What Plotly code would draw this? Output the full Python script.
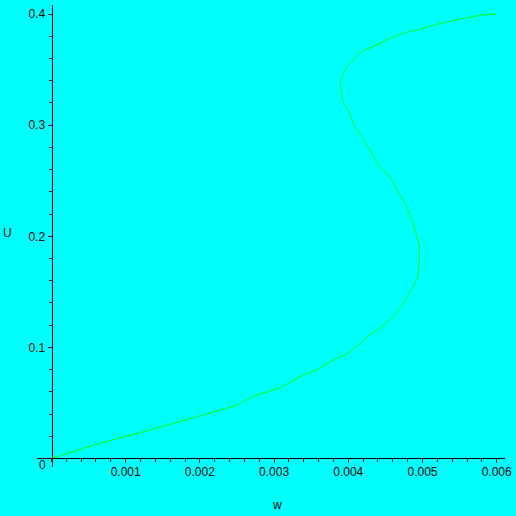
import plotly.graph_objects as go

# curve (w, U)
w_vals = [0.0, 0.000654, 0.001327, 0.002001, 0.002496, 0.002766, 0.003080,
          0.003349, 0.003619, 0.003754, 0.004023, 0.004292, 0.004472, 0.004606,
          0.004741, 0.004854, 0.004930, 0.004957, 0.004957, 0.004912, 0.004854,
          0.004787, 0.004674, 0.004539, 0.004404, 0.004292, 0.004181, 0.004090,
          0.004023, 0.003933, 0.003911, 0.003888, 0.003911, 0.003978, 0.004067,
          0.004181, 0.004337, 0.004562, 0.004787, 0.005011, 0.005280, 0.005550,
          0.005819, 0.006000]
u_vals = [0.0, 0.0137, 0.0257, 0.0383, 0.0482, 0.0572, 0.0637, 0.0736, 0.0812,
          0.0871, 0.0961, 0.1112, 0.1202, 0.1276, 0.1397, 0.1532, 0.1622, 0.1787,
          0.1906, 0.2027, 0.2147, 0.2266, 0.2401, 0.2552, 0.2642, 0.2777, 0.2897,
          0.2987, 0.3092, 0.3212, 0.3287, 0.3383, 0.3422, 0.3527, 0.3587, 0.3662,
          0.3707, 0.3782, 0.3836, 0.3872, 0.3923, 0.3962, 0.3992, 0.4000]

x_ticks = [0.001, 0.002, 0.003, 0.004, 0.005, 0.006]
x_labels = ["0.001", "0.002", "0.003", "0.004", "0.005", "0.006"]
y_ticks = [0.1, 0.2, 0.3, 0.4]
y_labels = ["0.1", "0.2", "0.3", "0.4"]

BG = "#00ffff"
FONT = dict(family="Liberation Sans, Arial, sans-serif", size=12, color="black")

fig = go.Figure()
fig.add_trace(go.Scatter(x=w_vals, y=u_vals, mode="lines",
                         line=dict(color="#00ff00", width=1, shape="spline",
                                   smoothing=0.6),
                         hoverinfo="skip", showlegend=False))

axis_common = dict(showgrid=False, zeroline=False, showline=True,
                   linecolor="black", linewidth=1, ticks="outside",
                   ticklen=4, tickwidth=1, tickcolor="black",
                   tickfont=FONT, tickmode="array")

fig.update_layout(
    width=516, height=516, autosize=False,
    margin=dict(l=37, r=11, t=5, b=49),
    paper_bgcolor=BG, plot_bgcolor=BG,
    xaxis=dict(range=[-0.000195, 0.006112], anchor="free", position=0.0184,
               tickvals=x_ticks, ticktext=x_labels, ticklabelstandoff=-2,
               minor=dict(tickmode="linear", tick0=0, dtick=0.0002,
                          ticklen=3, tickcolor="black", ticks="outside"),
               **axis_common),
    yaxis=dict(range=[-0.00765, 0.4082], anchor="free", position=0.031,
               tickvals=y_ticks, ticktext=y_labels,
               minor=dict(tickmode="linear", tick0=0, dtick=0.02,
                          ticklen=3, tickcolor="black", ticks="outside"),
               **axis_common),
    annotations=[
        dict(text="0", x=0.0107, y=0.0043, xref="paper", yref="paper",
             xanchor="center", yanchor="middle", showarrow=False, font=FONT),
        dict(text="w", x=0.5128, y=-0.0823, xref="paper", yref="paper",
             xanchor="center", yanchor="middle", showarrow=False, font=FONT),
        dict(text="U", x=-0.0641, y=0.5065, xref="paper", yref="paper",
             xanchor="center", yanchor="middle", showarrow=False, font=FONT),
    ],
)

# drop the default page margin so the 516px figure fills the window
fig.write_html("out.html",
               config={"displayModeBar": False},
               post_script="document.body.style.margin='0';"
                           "document.body.style.overflow='hidden';")
